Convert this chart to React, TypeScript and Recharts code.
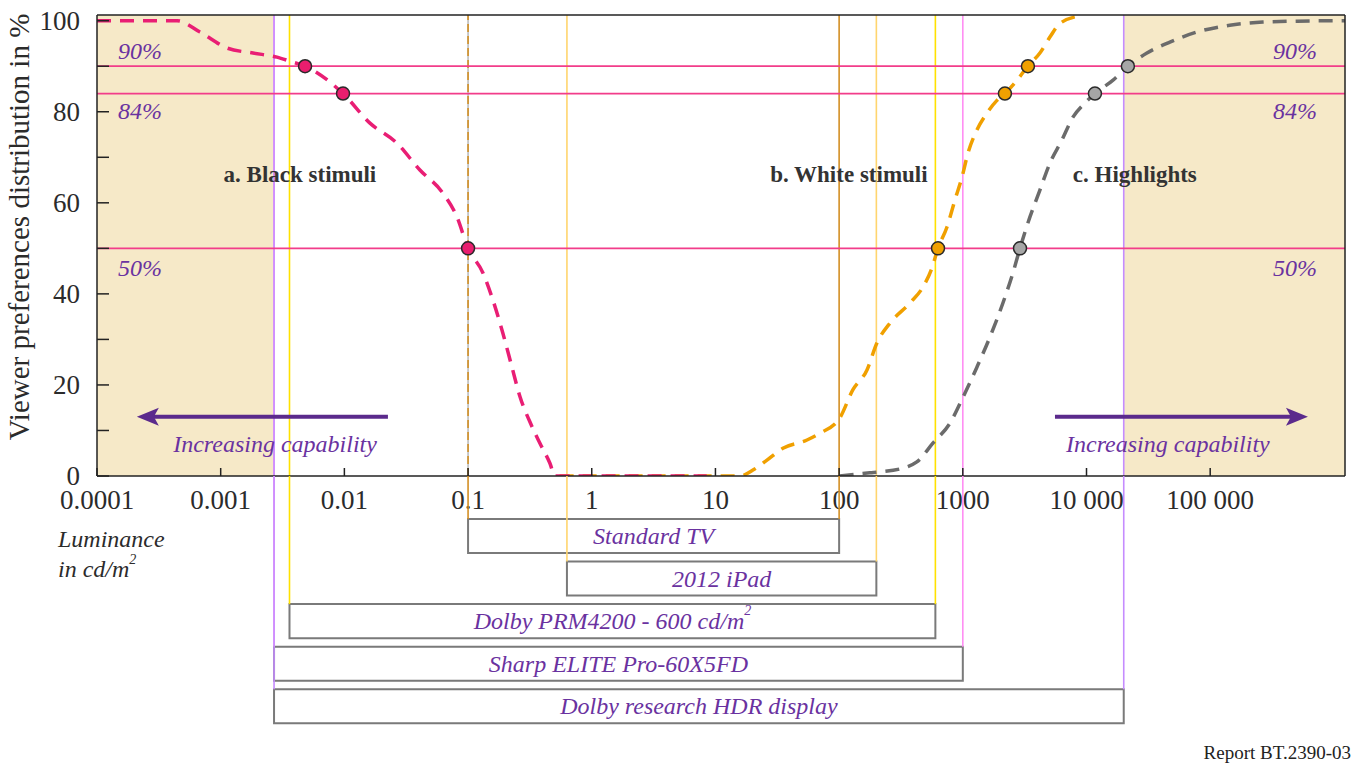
import React from 'react';
import { ComposedChart, Line, XAxis, YAxis, ReferenceLine, ReferenceArea, ReferenceDot } from 'recharts';

const SERIF = "'Liberation Serif', 'Times New Roman', serif";
const PURPLE_TEXT = '#6a32a0';
const INK = '#2b2b2b';

// x axis: luminance in cd/m2 (log)
const luminanceTicks = [0.0001, 0.001, 0.01, 0.1, 1, 10, 100, 1000, 10000, 100000];
const luminanceTickLabels = ['0.0001', '0.001', '0.01', '0.1', '1', '10', '100', '1000', '10 000', '100 000'];
const luminanceDomain = [0.0001, 1230000];
const percentTicks = [0, 10, 20, 30, 40, 50, 60, 70, 80, 90, 100];

// a. Black stimuli
const blackLum = [0.0001, 0.000444, 0.00068, 0.001125, 0.001824, 0.00285, 0.00363, 0.00481, 0.00975, 0.0161, 0.0266, 0.0408, 0.0627, 0.0813, 0.1, 0.132, 0.159, 0.191, 0.226, 0.263, 0.316, 0.381, 0.459, 0.504, 8.5];
const blackPct = [100, 100, 97.5, 94, 92.9, 92, 91.1, 90, 84, 77.5, 73.1, 67.2, 62.1, 56.9, 50, 44.6, 38.6, 31.4, 24, 17.4, 11.9, 7.2, 2.8, 0, 0];

// b. White stimuli
const whiteLum = [0.55, 15.8, 20.1, 26.1, 35.1, 55, 70, 101, 129, 168, 202, 258, 374, 476, 563, 630, 745, 863, 984, 1100, 1300, 1567, 1888, 2190, 2737, 3357, 4200, 5060, 6095, 9350];
const whitePct = [0, 0, 1.3, 3.5, 6.1, 7.9, 9.4, 12.7, 18.9, 23.3, 29.2, 33.6, 38, 41.5, 45.7, 50, 54.7, 60.6, 65.6, 70.9, 76, 79.7, 82.5, 84, 86.9, 90, 92.9, 96.4, 99.4, 101.2];

// c. Highlights
const highLum = [101, 177, 214, 353, 425, 573, 787, 1003, 1300, 1656, 2110, 2541, 2897, 3490, 4200, 5060, 6330, 7770, 9700, 11700, 16300, 21600, 30800, 47200, 78000, 144000, 267000, 502000, 1230000];
const highPct = [0, 0.7, 0.9, 2, 3.1, 7.2, 11.6, 17.3, 23.9, 30.5, 38, 44.6, 50, 56.9, 62.8, 68.7, 73.8, 78.8, 81.9, 84, 86.9, 90, 92.9, 95.3, 97.5, 99, 99.7, 99.9, 100];

// marked preference levels and where each curve crosses them
const thresholds = [90, 84, 50];
const blackMarkers = [0.00481, 0.00975, 0.1];
const whiteMarkers = [3360, 2190, 630];
const highMarkers = [21600, 11700, 2900];

// displays (luminance ranges)
const displayNames = ['Standard TV', '2012 iPad', 'Dolby PRM4200 - 600 cd/m', 'Sharp ELITE Pro-60X5FD', 'Dolby research HDR display'];
const displaySup = ['', '', '2', '', ''];
const displayMin = [0.1, 0.63, 0.0036, 0.0027, 0.0027];
const displayMax = [100, 200, 600, 1000, 20000];
const displayColors = ['#d38f24', '#ffd56e', '#ffe100', '#ff8ef3', '#c58cff'];

const rowDomain = [-1.41, 5.45];
const boxHalf = 0.4;

const toPoints = (xs: number[], ys: number[]) => xs.map((x, i) => ({ x, y: ys[i] }));
const blackData = toPoints(blackLum, blackPct);
const whiteData = toPoints(whiteLum, whitePct);
const highData = toPoints(highLum, highPct);

const fmtLum = (v: number) => luminanceTickLabels[luminanceTicks.indexOf(v)] ?? String(v);

const PercentTick = (props: any) => {
  const { x, y, payload } = props;
  if (payload.value % 20 !== 0) return null;
  return (
    <text x={x} y={y} dy="0.33em" textAnchor="end" fill={INK} fontSize={27} fontFamily={SERIF}>
      {payload.value}
    </text>
  );
};

const centerText = (text: string, style: any) => (props: any) => {
  const vb = props.viewBox;
  return (
    <text
      x={vb.x + vb.width / 2}
      y={vb.y + vb.height / 2}
      textAnchor="middle"
      dominantBaseline="central"
      fontFamily={SERIF}
      {...style}
    >
      {text}
    </text>
  );
};

const thresholdLabel = (v: number, offset: number) => (props: any) => {
  const vb = props.viewBox;
  const common = { fill: PURPLE_TEXT, fontSize: 24, fontStyle: 'italic', fontFamily: SERIF };
  return (
    <g>
      <text x={vb.x + 21} y={vb.y + offset} {...common}>{v}%</text>
      <text x={vb.x + vb.width - 28} y={vb.y + offset} textAnchor="end" {...common}>{v}%</text>
    </g>
  );
};
const thresholdOffsets = [-7, 25, 28];

const ArrowShape = (p: any) => {
  const { x1, y1, x2, y2 } = p;
  const dir = Math.sign(x2 - x1);
  const color = '#5b2a8c';
  return (
    <g>
      <line x1={x1} y1={y1} x2={x2 - dir * 14} y2={y2} stroke={color} strokeWidth={4} />
      <polygon
        points={`${x2},${y2} ${x2 - dir * 22},${y2 - 9} ${x2 - dir * 17},${y2} ${x2 - dir * 22},${y2 + 9}`}
        fill={color}
      />
    </g>
  );
};

const boxLabel = (name: string, sup: string) => (props: any) => {
  const vb = props.viewBox;
  return (
    <text
      x={vb.x + vb.width / 2}
      y={vb.y + vb.height / 2}
      textAnchor="middle"
      dominantBaseline="central"
      fill={PURPLE_TEXT}
      fontSize={24}
      fontStyle="italic"
      fontFamily={SERIF}
    >
      {name}
      {sup && <tspan dy={-11} fontSize={14}>{sup}</tspan>}
    </text>
  );
};

const curveStyle = { strokeWidth: 3.5, strokeDasharray: '14 9', dot: false, activeDot: false, type: 'monotone' as const };

export default function App() {
  return (
    <div style={{ position: 'relative', width: 1356, height: 768, background: '#fff', overflow: 'hidden' }}>
      <style>{'body{margin:0;}'}</style>

      <ComposedChart
        width={1356}
        height={768}
        margin={{ top: 14, right: 0, bottom: 262, left: 0 }}
        style={{ position: 'absolute', left: 0, top: 0 }}
      >
        <XAxis
          dataKey="x"
          type="number"
          scale="log"
          domain={luminanceDomain}
          allowDataOverflow
          ticks={luminanceTicks}
          interval={0}
          tickFormatter={fmtLum}
          height={30}
          tickSize={-8}
          tickMargin={22}
          stroke="#222"
          strokeWidth={1.5}
          tick={{ fill: INK, fontSize: 27, fontFamily: SERIF }}
        />
        <XAxis
          xAxisId="top"
          orientation="top"
          dataKey="x"
          type="number"
          scale="log"
          domain={luminanceDomain}
          allowDataOverflow
          ticks={luminanceTicks}
          interval={0}
          height={1}
          tickSize={-8}
          tick={false}
          stroke="#222"
          strokeWidth={1.5}
        />
        <YAxis
          type="number"
          domain={[0, 101.25]}
          allowDataOverflow
          ticks={percentTicks}
          interval={0}
          width={97}
          tickSize={-12}
          tickMargin={29}
          tick={PercentTick}
          stroke="#222"
          strokeWidth={1.5}
        />
        <YAxis
          yAxisId="right"
          orientation="right"
          type="number"
          domain={[0, 101.25]}
          allowDataOverflow
          ticks={percentTicks}
          interval={0}
          width={11}
          tickSize={-12}
          tick={false}
          stroke="#222"
          strokeWidth={1.5}
        />

        <ReferenceArea x1={luminanceDomain[0]} x2={displayMin[4]} fill="#f6e9c8" fillOpacity={1} stroke="none" />
        <ReferenceArea x1={displayMax[4]} x2={luminanceDomain[1]} fill="#f6e9c8" fillOpacity={1} stroke="none" />

        {/* grey under the dashed Standard TV lower bound */}
        <ReferenceLine x={displayMin[0]} stroke="#bdbdbd" strokeWidth={1.6} />
        {displayNames.map((name, i) => (
          <ReferenceLine
            key={'lo' + name}
            x={displayMin[i]}
            stroke={displayColors[i]}
            strokeWidth={1.6}
            strokeDasharray={i === 0 ? '8 4' : undefined}
          />
        ))}
        {displayNames.map((name, i) => (
          <ReferenceLine key={'hi' + name} x={displayMax[i]} stroke={displayColors[i]} strokeWidth={1.6} />
        ))}

        {thresholds.map((t, i) => (
          <ReferenceLine key={'t' + t} y={t} stroke="#f23d8a" strokeWidth={1.8} label={thresholdLabel(t, thresholdOffsets[i])} />
        ))}

        <ReferenceLine segment={[{ x: 0.0225, y: 13 }, { x: 0.00021, y: 13 }]} shape={ArrowShape} />
        <ReferenceLine segment={[{ x: 5560, y: 13 }, { x: 617000, y: 13 }]} shape={ArrowShape} />

        <Line data={highData} dataKey="y" stroke="#6b6b6b" {...curveStyle} isAnimationActive={false} />
        <Line data={whiteData} dataKey="y" stroke="#f0a000" {...curveStyle} isAnimationActive={false} />
        <Line data={blackData} dataKey="y" stroke="#e91e74" {...curveStyle} isAnimationActive={false} />

        {thresholds.map((t, i) => (
          <ReferenceDot key={'b' + t} x={blackMarkers[i]} y={t} r={6.5} fill="#e91e6e" stroke="#2a2a2a" strokeWidth={1.5} />
        ))}
        {thresholds.map((t, i) => (
          <ReferenceDot key={'w' + t} x={whiteMarkers[i]} y={t} r={6.5} fill="#f0a000" stroke="#2a2a2a" strokeWidth={1.5} />
        ))}
        {thresholds.map((t, i) => (
          <ReferenceDot key={'h' + t} x={highMarkers[i]} y={t} r={6.5} fill="#a6a6a6" stroke="#2a2a2a" strokeWidth={1.5} />
        ))}

        <ReferenceDot x={0.00437} y={66.3} r={0} fill="none" stroke="none"
          label={centerText('a. Black stimuli', { fill: '#333', fontSize: 23, fontWeight: 'bold' })} />
        <ReferenceDot x={120} y={66.3} r={0} fill="none" stroke="none"
          label={centerText('b. White stimuli', { fill: '#333', fontSize: 23, fontWeight: 'bold' })} />
        <ReferenceDot x={24600} y={66.3} r={0} fill="none" stroke="none"
          label={centerText('c. Highlights', { fill: '#333', fontSize: 23, fontWeight: 'bold' })} />
        <ReferenceDot x={0.00275} y={7} r={0} fill="none" stroke="none"
          label={centerText('Increasing capability', { fill: PURPLE_TEXT, fontSize: 24, fontStyle: 'italic' })} />
        <ReferenceDot x={45500} y={7} r={0} fill="none" stroke="none"
          label={centerText('Increasing capability', { fill: PURPLE_TEXT, fontSize: 24, fontStyle: 'italic' })} />
      </ComposedChart>

      <ComposedChart
        width={1356}
        height={292}
        margin={{ top: 0, right: 11, bottom: 0, left: 97 }}
        style={{ position: 'absolute', left: 0, top: 476 }}
      >
        <XAxis dataKey="x" type="number" scale="log" domain={luminanceDomain} allowDataOverflow hide />
        <YAxis type="number" domain={rowDomain} allowDataOverflow reversed hide />
        {displayNames.map((name, i) => (
          <ReferenceLine
            key={'llo' + name}
            segment={[{ x: displayMin[i], y: rowDomain[0] }, { x: displayMin[i], y: i - boxHalf }]}
            stroke={displayColors[i]}
            strokeWidth={1.6}
          />
        ))}
        {displayNames.map((name, i) => (
          <ReferenceLine
            key={'lhi' + name}
            segment={[{ x: displayMax[i], y: rowDomain[0] }, { x: displayMax[i], y: i - boxHalf }]}
            stroke={displayColors[i]}
            strokeWidth={1.6}
          />
        ))}
        {displayNames.map((name, i) => (
          <ReferenceArea
            key={'box' + name}
            x1={displayMin[i]}
            x2={displayMax[i]}
            y1={i - boxHalf}
            y2={i + boxHalf}
            fill="#fff"
            fillOpacity={1}
            stroke="#7a7a7a"
            strokeWidth={2}
            label={boxLabel(name, displaySup[i])}
          />
        ))}
      </ComposedChart>

      <svg width={1356} height={768} style={{ position: 'absolute', left: 0, top: 0, pointerEvents: 'none' }}>
        <text
          transform="translate(19,227) rotate(-90)"
          textAnchor="middle"
          dominantBaseline="central"
          fill={INK}
          fontSize={29}
          fontFamily={SERIF}
        >
          Viewer preferences distribution in %
        </text>
        <text x={58} y={547} fill={INK} fontSize={24} fontStyle="italic" fontFamily={SERIF}>Luminance</text>
        <text x={58} y={577} fill={INK} fontSize={24} fontStyle="italic" fontFamily={SERIF}>
          in cd/m<tspan dy={-13} fontSize={14}>2</tspan>
        </text>
        <text x={1351} y={759} textAnchor="end" fill="#222" fontSize={19} fontFamily={SERIF}>Report BT.2390-03</text>
      </svg>
    </div>
  );
}
